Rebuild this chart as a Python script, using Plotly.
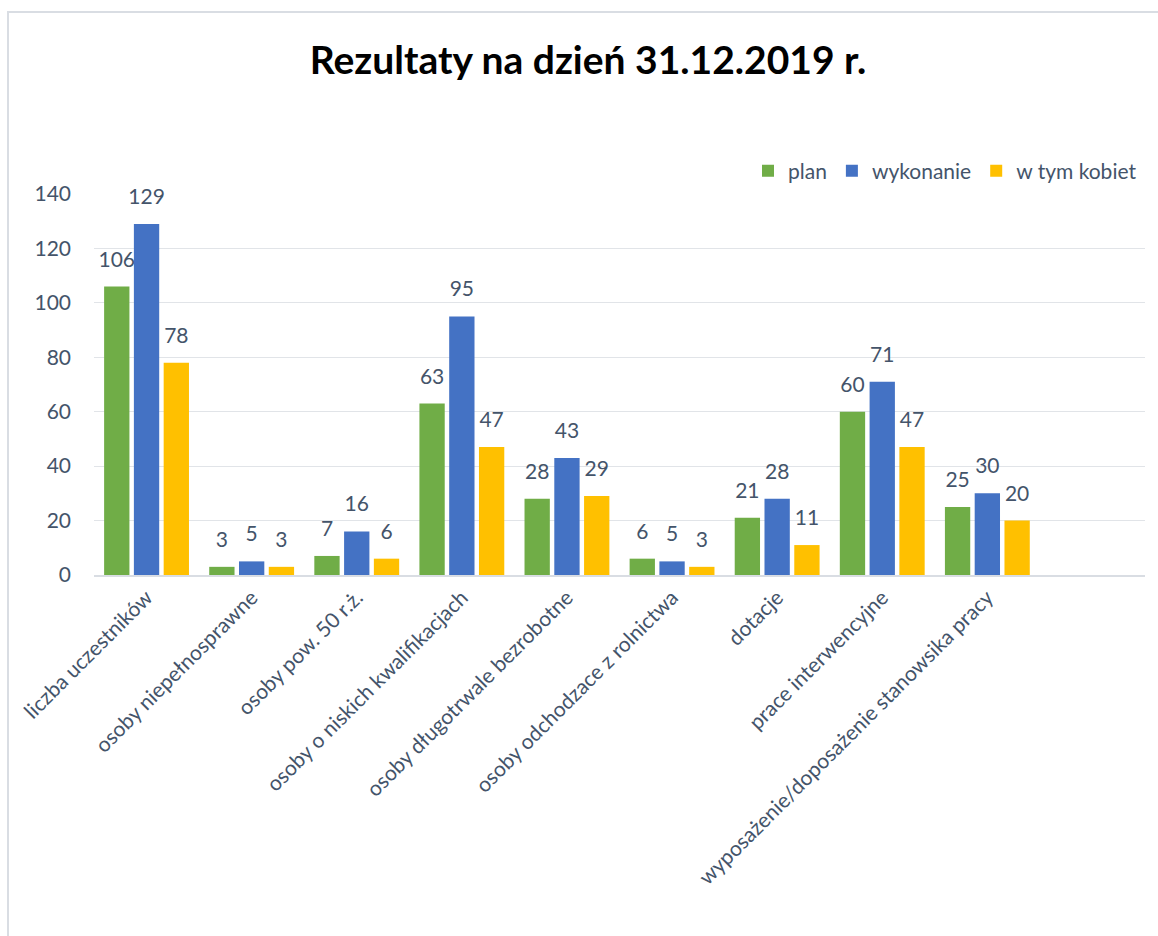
import plotly.graph_objects as go

categories = [
    "liczba uczestników",
    "osoby niepełnosprawne",
    "osoby pow. 50 r.ż.",
    "osoby o niskich kwalifikacjach",
    "osoby długotrwale bezrobotne",
    "osoby odchodzace z rolnictwa",
    "dotacje",
    "prace interwencyjne",
    "wyposażenie/doposażenie stanowsika pracy",
]
plan = [106, 3, 7, 63, 28, 6, 21, 60, 25]
wykonanie = [129, 5, 16, 95, 43, 5, 28, 71, 30]
kobiety = [78, 3, 6, 47, 29, 3, 11, 47, 20]

series = [
    ("plan", plan, "#70AD47"),
    ("wykonanie", wykonanie, "#4472C4"),
    ("w tym kobiet", kobiety, "#FFC000"),
]

FONT = "Lato"
TXT = "#44546A"
FS = 21

fig = go.Figure()
for i, (name, vals, color) in enumerate(series):
    fig.add_trace(go.Bar(
        name=name, x=categories, y=vals,
        marker=dict(color=color, line=dict(width=0)),
        offsetgroup=str(i),
    ))
# value labels floated above each bar
for i, (name, vals, color) in enumerate(series):
    fig.add_trace(go.Scatter(
        x=categories, y=vals, mode="markers+text",
        text=[str(v) for v in vals], textposition="top center",
        textfont=dict(family=FONT, size=FS, color=TXT),
        marker=dict(size=22, color="rgba(0,0,0,0)"),
        offsetgroup=str(i), showlegend=False, hoverinfo="skip",
        cliponaxis=False,
    ))

W, H = 1158, 936
L, R, T, B = 94, 13, 194, 361
pw, ph = W - L - R, H - T - B

def px(xp):
    return (xp - L) / pw

def py(yp):
    return (H - B - yp) / ph

fig.update_layout(
    width=W, height=H,
    margin=dict(l=L, r=R, t=T, b=B),
    paper_bgcolor="white", plot_bgcolor="white",
    barmode="group", bargap=0.15, bargroupgap=0.15,
    scattermode="group",
    font=dict(family=FONT, size=FS, color=TXT),
    title=dict(
        text="<b>Rezultaty na dzień 31.12.2019 r.</b>",
        font=dict(family=FONT, size=39, color="#000000"),
        x=588 / W, xanchor="center", y=1 - 60 / H, yanchor="middle",
    ),
    legend=dict(
        orientation="h", x=px(1142), xanchor="right",
        y=py(171), yanchor="middle",
        font=dict(family=FONT, size=FS, color=TXT),
        bgcolor="rgba(0,0,0,0)", itemwidth=30, traceorder="normal",
    ),
    xaxis=dict(
        type="category", range=[-0.5, 9.5], tickangle=-45,
        showgrid=False, showline=True, linecolor="#D9DDE3", linewidth=2,
        ticks="", tickfont=dict(family=FONT, size=FS, color=TXT),
        fixedrange=True,
    ),
    yaxis=dict(
        range=[0, 140], dtick=20, showgrid=True, gridcolor="#E1E4E8",
        gridwidth=1, zeroline=False, showline=False, ticks="",
        tickfont=dict(family=FONT, size=FS, color=TXT),
        ticklabelstandoff=22, fixedrange=True,
    ),
    shapes=[dict(
        type="rect", xref="paper", yref="paper",
        x0=px(8), x1=px(W + 20), y0=py(H + 20), y1=py(12),
        line=dict(color="#D9DDE3", width=2), fillcolor="rgba(0,0,0,0)",
        layer="below",
    )],
)

fig.write_html("out.html")
